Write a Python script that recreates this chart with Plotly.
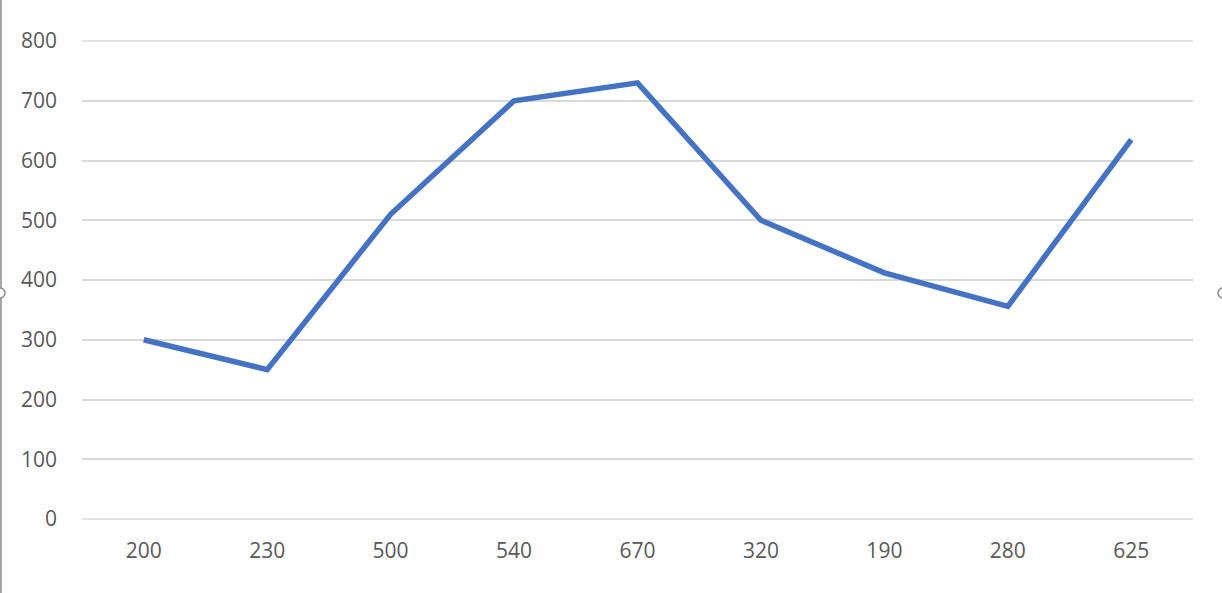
import plotly.graph_objects as go

categories = ["200", "230", "500", "540", "670", "320", "190", "280", "625"]
values = [300, 250, 510, 700, 730, 500, 412, 356, 635]
y_ticks = [0, 100, 200, 300, 400, 500, 600, 700, 800]

fig = go.Figure()
fig.add_trace(go.Scatter(
    x=categories, y=values, mode="lines",
    line=dict(color="#4472C4", width=5.5, shape="linear"),
    hoverinfo="x+y",
))

fig.update_layout(
    width=1222, height=593, autosize=False,
    margin=dict(l=82, r=29, t=41, b=74),
    paper_bgcolor="white", plot_bgcolor="white",
    showlegend=False,
    font=dict(family="Open Sans, Liberation Sans, sans-serif", size=21, color="#595959"),
    xaxis=dict(
        type="category", range=[-0.5, 8.5],
        showgrid=False, zeroline=False, showline=False,
        ticks="", ticklabelstandoff=17,
        tickfont=dict(size=21, color="#595959"),
    ),
    yaxis=dict(
        range=[0, 800], tickvals=y_ticks,
        showgrid=True, gridcolor="#D9D9D9", gridwidth=1.5,
        zeroline=False, showline=False, ticks="",
        ticklabelstandoff=24,
        tickfont=dict(size=21, color="#595959"),
    ),
    shapes=[
        dict(type="line", xref="paper", yref="paper", x0=0, x1=1, y0=0, y1=0,
             line=dict(color="#D9D9D9", width=1.5), layer="below"),
        dict(type="line", xref="paper", yref="paper", x0=0, x1=1, y0=1, y1=1,
             line=dict(color="#D9D9D9", width=1.5), layer="below"),
        dict(type="line", xref="paper", yref="paper",
             x0=-81/1111, x1=-81/1111, y0=-74/478, y1=(478+41)/478,
             line=dict(color="#A6A6A6", width=2)),
        dict(type="circle", xref="paper", yref="paper",
             x0=(-82-5)/1111, x1=(-82+5)/1111, y0=(226-5)/478, y1=(226+5)/478,
             line=dict(color="#8C8C8C", width=1.5), fillcolor="white"),
        dict(type="circle", xref="paper", yref="paper",
             x0=(1111+29-4)/1111, x1=(1111+29+6)/1111, y0=(226-5)/478, y1=(226+5)/478,
             line=dict(color="#8C8C8C", width=1.5), fillcolor="white"),
    ],
)

fig.write_html("out.html", config={"displayModeBar": False},
               post_script="document.body.style.margin='0';document.body.style.overflow='hidden';")
